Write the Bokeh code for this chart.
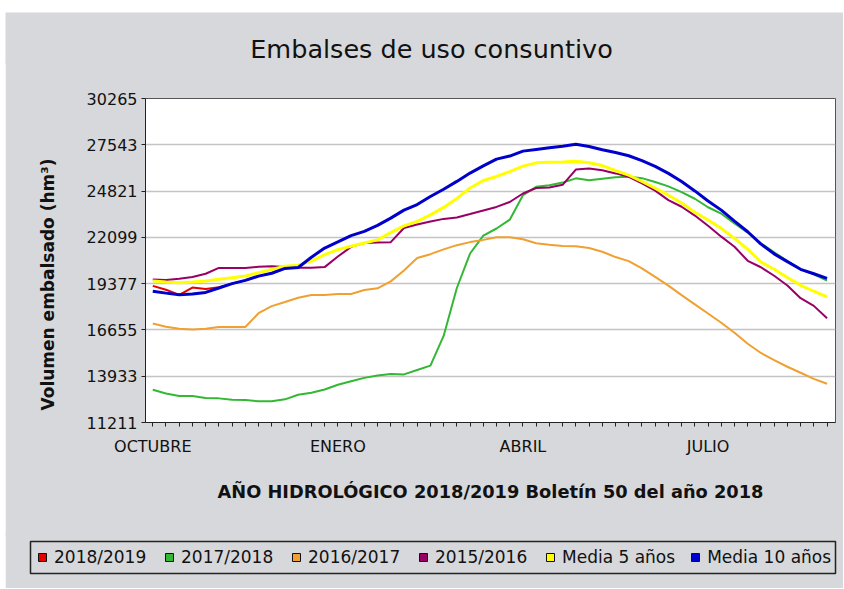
from bokeh.plotting import figure
from bokeh.models import Range1d, FixedTicker, Legend, LegendItem, Title, Label
from bokeh.embed import file_html
from bokeh.resources import INLINE

# ---------------- data ----------------
weeks = list(range(52))
month_labels = {0: "OCTUBRE", 14: "ENERO", 28: "ABRIL", 42: "JULIO"}
y_ticks = [11211, 13933, 16655, 19377, 22099, 24821, 27543, 30265]

series_names = ["2018/2019", "2017/2018", "2016/2017", "2015/2016", "Media 5 años", "Media 10 años"]
series_colors = ["#e60000", "#33b833", "#f0a030", "#990066", "#ffff00", "#0000cc"]

weeks_2018 = list(range(11))
s2018 = [19245, 19018, 18716, 19150, 19056, 19160, 19377, 19570, 19820, 19990, 20270]

s2017 = [13140, 12920, 12767, 12767, 12650, 12630, 12553, 12533, 12456, 12456,
         12572, 12844, 12961, 13155, 13428, 13641, 13836, 13980, 14060, 14040,
         14300, 14555, 16300, 19120, 21150, 22200, 22620, 23140, 24580, 25070,
         25160, 25320, 25570, 25460, 25550, 25637, 25660, 25580, 25350, 25100,
         24760, 24370, 23870, 23490, 22920, 22380, 21750, 21225, 20700, 20214,
         19922, 19550]

s2016 = [17030, 16844, 16731, 16680, 16731, 16825, 16825, 16825, 17638, 18054,
         18299, 18545, 18715, 18715, 18772, 18772, 19000, 19100, 19510, 20150,
         20890, 21110, 21390, 21640, 21820, 21950, 22100, 22110, 21990, 21755,
         21660, 21590, 21580, 21475, 21250, 20940, 20700, 20270, 19770, 19260,
         18700, 18160, 17620, 17080, 16490, 15840, 15300, 14880, 14490, 14135,
         13780, 13490]

s2015 = [19625, 19591, 19669, 19766, 19960, 20300, 20300, 20300, 20368, 20407,
         20349, 20310, 20310, 20349, 20970, 21540, 21768, 21800, 21815, 22650,
         22850, 23030, 23185, 23270, 23470, 23680, 23888, 24180, 24680, 25000,
         25030, 25190, 26087, 26155, 26040, 25860, 25660, 25270, 24850, 24290,
         23900, 23380, 22780, 22140, 21550, 20720, 20340, 19840, 19265, 18520,
         18070, 17340]

media5 = [19533, 19474, 19435, 19474, 19533, 19630, 19727, 19824, 20019, 20213,
          20407, 20466, 20699, 21088, 21379, 21574, 21768, 21950, 22380, 22770,
          23040, 23420, 23860, 24390, 25000, 25440, 25680, 25970, 26290, 26480,
          26510, 26530, 26575, 26490, 26320, 26030, 25755, 25385, 24990, 24580,
          24120, 23575, 23115, 22630, 22040, 21400, 20650, 20220, 19740, 19280,
          18930, 18600]

media10 = [18930, 18820, 18725, 18765, 18860, 19120, 19377, 19570, 19820, 19990,
           20270, 20330, 20930, 21470, 21830, 22200, 22450, 22800, 23230, 23700,
           24030, 24500, 24930, 25390, 25880, 26300, 26700, 26880, 27170, 27270,
           27370, 27455, 27570, 27446, 27250, 27090, 26900, 26615, 26270, 25860,
           25385, 24830, 24240, 23700, 23050, 22430, 21700, 21130, 20670, 20220,
           19960, 19690]

title_text = "Embalses de uso consuntivo"
y_title = "Volumen embalsado (hm³)"
x_title = "AÑO HIDROLÓGICO 2018/2019 Boletín 50 del año 2018"

BG = "#d7d8db"
FONT = "DejaVu Sans"
TXT = "#111111"

# ---------------- title strip (first root) ----------------
ptitle = figure(width=838, height=52, output_backend="svg", toolbar_location=None,
                title=None, x_axis_location=None, y_axis_location=None,
                x_range=Range1d(0, 1), y_range=Range1d(0, 1),
                min_border_left=0, min_border_right=0, min_border_top=0,
                min_border_bottom=0, margin=(12, 0, 0, 5))
ptitle.background_fill_color = BG
ptitle.border_fill_color = BG
ptitle.outline_line_color = None
ptitle.grid.visible = False
ptitle.add_layout(Label(x=426, y=16, x_units="screen", y_units="screen",
                        text=title_text, text_align="center", text_baseline="middle",
                        text_font=FONT, text_font_size="25.5px", text_color=TXT))

# ---------------- main figure ----------------
p = figure(width=838, height=476, output_backend="svg", toolbar_location=None,
           title=None, x_range=Range1d(-0.55, 51.64), y_range=Range1d(11211, 30265),
           min_border_left=140, min_border_right=8, min_border_top=38,
           min_border_bottom=114, margin=(-4, 0, 0, 5))
p.background_fill_color = "white"
p.border_fill_color = BG
p.outline_line_color = "#555555"
p.outline_line_width = 1

# x axis
p.xaxis.ticker = FixedTicker(ticks=weeks)
p.xaxis.major_label_overrides = {w: month_labels.get(w, "") for w in weeks}
p.xaxis.major_tick_out = 4
p.xaxis.major_tick_in = 0
p.xaxis.minor_tick_out = 0
p.xaxis.minor_tick_in = 0
p.xaxis.major_label_standoff = 10
p.xaxis.axis_line_color = "#222222"
p.xaxis.major_tick_line_color = "#222222"
p.xaxis.major_label_text_font = FONT
p.xaxis.major_label_text_font_size = "16px"
p.xaxis.major_label_text_color = TXT
p.xaxis.axis_label = x_title
p.xaxis.axis_label_standoff = 22
p.xaxis.axis_label_text_font = FONT
p.xaxis.axis_label_text_font_size = "17.8px"
p.xaxis.axis_label_text_font_style = "bold"
p.xaxis.axis_label_text_color = TXT

# y axis
p.yaxis.ticker = FixedTicker(ticks=y_ticks)
p.yaxis.major_tick_out = 4
p.yaxis.major_tick_in = 0
p.yaxis.minor_tick_out = 0
p.yaxis.minor_tick_in = 0
p.yaxis.major_label_standoff = 4
p.yaxis.axis_line_color = "#222222"
p.yaxis.major_tick_line_color = "#222222"
p.yaxis.major_label_text_font = FONT
p.yaxis.major_label_text_font_size = "16px"
p.yaxis.major_label_text_color = TXT

ytitle = Title(text=y_title, align="left", offset=12, standoff=51,
               text_font=FONT, text_font_size="17px", text_font_style="bold",
               text_color=TXT)
p.add_layout(ytitle, "left")

p.xgrid.visible = False
p.ygrid.ticker = FixedTicker(ticks=y_ticks)
p.ygrid.grid_line_color = "#c4c4c4"
p.ygrid.grid_line_width = 1.5

all_x = [weeks_2018, weeks, weeks, weeks, weeks, weeks]
all_y = [s2018, s2017, s2016, s2015, media5, media10]
widths = [2, 2, 2, 2, 3, 3]
for xs, ys, c, w in zip(all_x, all_y, series_colors, widths):
    p.line(xs, ys, line_color=c, line_width=w)

# ---------------- legend strip (last root) ----------------
pleg = figure(width=838, height=57, output_backend="svg", toolbar_location=None,
              title=None, x_axis_location=None, y_axis_location=None,
              x_range=Range1d(0, 1), y_range=Range1d(0, 1),
              min_border_left=25, min_border_right=8, min_border_top=10,
              min_border_bottom=15, margin=(-5, 0, 0, 5))
pleg.background_fill_color = BG
pleg.border_fill_color = BG
pleg.outline_line_color = "#222222"
pleg.outline_line_width = 1.5
pleg.grid.visible = False

items = []
for name, c in zip(series_names, series_colors):
    r = pleg.scatter(x=[-100], y=[-100], marker="square", fill_color=c,
                     line_color="#111111", line_width=1, size=8)
    items.append(LegendItem(label=name, renderers=[r]))

legend = Legend(items=items, orientation="horizontal", location="top_left")
legend.glyph_width = 20
legend.glyph_height = 28
legend.label_height = 28
legend.label_width = 95
legend.label_standoff = 2
legend.spacing = 10
legend.padding = 2
legend.margin = 0
legend.label_text_font = FONT
legend.label_text_font_size = "17px"
legend.label_text_color = TXT
legend.background_fill_alpha = 0
legend.border_line_alpha = 0
pleg.add_layout(legend)

open("out.html", "w").write(file_html([ptitle, p, pleg], INLINE))
